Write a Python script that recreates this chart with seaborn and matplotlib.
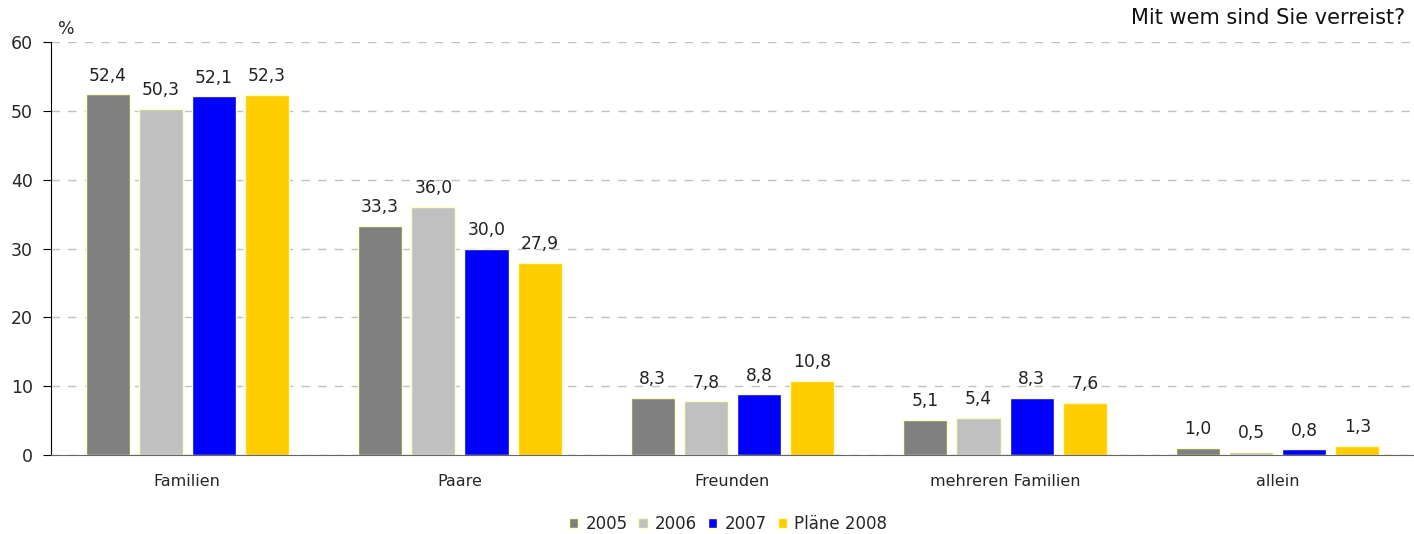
import matplotlib
matplotlib.use("Agg")
import matplotlib.pyplot as plt
import numpy as np
import pandas as pd
import seaborn as sns
from matplotlib.patches import Patch

categories = ["Familien", "Paare", "Freunden", "mehreren Familien", "allein"]
years = ["2005", "2006", "2007", "Pläne 2008"]
v2005 = [52.4, 33.3, 8.3, 5.1, 1.0]
v2006 = [50.3, 36.0, 7.8, 5.4, 0.5]
v2007 = [52.1, 30.0, 8.8, 8.3, 0.8]
v2008 = [52.3, 27.9, 10.8, 7.6, 1.3]
colors = ["#808080", "#C0C0C0", "#0000FF", "#FFCC00"]

df = pd.DataFrame({
    "Kategorie": categories * 4,
    "Jahr": [y for y in years for _ in categories],
    "Wert": v2005 + v2006 + v2007 + v2008,
})

sns.set_style("white")
plt.rcParams["font.family"] = ["DejaVu Sans"]

fig = plt.figure(figsize=(14.14, 5.34), dpi=100)
ax = fig.add_axes([51 / 1414, 1 - 455 / 534, 1 - 51 / 1414, (455 - 42) / 534])

sns.barplot(data=df, x="Kategorie", y="Wert", hue="Jahr", palette=colors,
            order=categories, hue_order=years, width=0.78, gap=0.17,
            saturation=1, edgecolor="#FFFFC0", linewidth=1, legend=False, ax=ax)

for cont in ax.containers:
    ax.bar_label(cont, labels=[f"{b.get_height():.1f}".replace(".", ",") for b in cont],
                 padding=7, fontsize=12.3, color="#222222")

ax.set_xlim(-0.5, len(categories) - 0.5)
ax.set_ylim(0, 60)
ax.set_yticks(np.arange(0, 61, 10))
ax.yaxis.grid(True, linestyle=(0, (6, 6)), color="#C0C0C0", linewidth=1)
ax.set_axisbelow(True)
ax.set_xlabel("")
ax.set_ylabel("")

for s in ["top", "right"]:
    ax.spines[s].set_visible(False)
ax.spines["left"].set_color("black")
ax.spines["bottom"].set_color("#666666")

ax.set_xticks(np.arange(len(categories)))
ax.set_xticklabels(categories, fontsize=11.5)
ax.tick_params(axis="x", which="major", length=0, pad=14)
ax.set_xticks(np.arange(0.5, len(categories) - 1, 1), minor=True)
ax.tick_params(axis="x", which="minor", length=5, direction="out", color="#666666")
ax.tick_params(axis="y", length=6, direction="out", labelsize=12.5, left=True,
               color="black", pad=7)

fig.text(58 / 1414, 1 - 29 / 534, "%", fontsize=12.5, ha="left", va="center")
fig.text(1405 / 1414, 1 - 18 / 534, "Mit wem sind Sie verreist?", fontsize=15,
         ha="right", va="center", color="#111111")

handles = [Patch(facecolor=c, edgecolor="#FFFFC0") for c in colors]
fig.legend(handles, years, loc="center", bbox_to_anchor=(728 / 1414, 1 - 524 / 534),
           ncol=4, frameon=False, fontsize=12, handlelength=0.55, handleheight=0.55,
           handletextpad=0.45, columnspacing=0.65)

fig.savefig("out.png", dpi=100)
